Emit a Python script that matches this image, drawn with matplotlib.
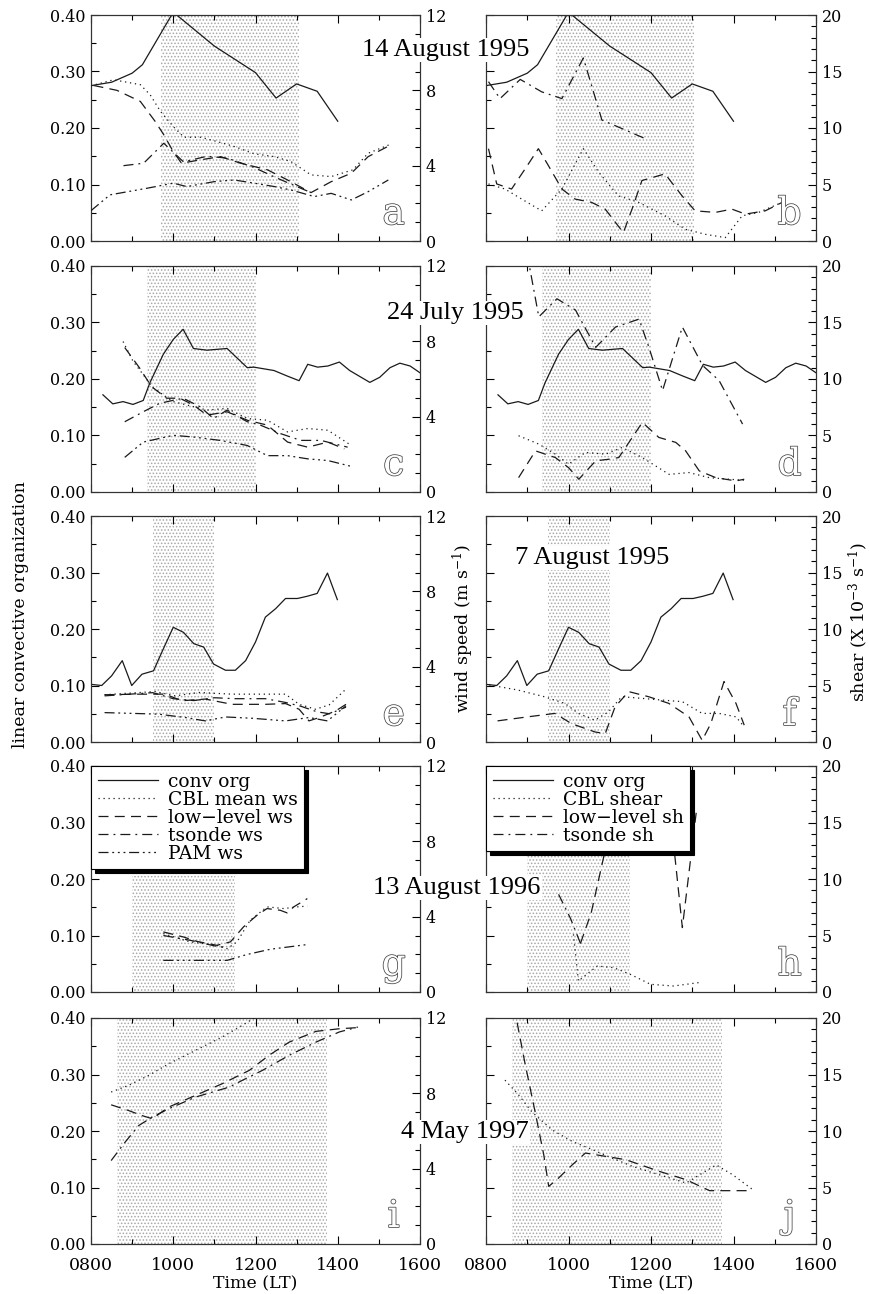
import matplotlib
matplotlib.use("Agg")
import matplotlib.pyplot as plt
import matplotlib.patheffects as pe
from matplotlib.lines import Line2D
from matplotlib.ticker import MultipleLocator, FuncFormatter

plt.rcParams['font.family'] = 'DejaVu Serif'
plt.rcParams['mathtext.fontset'] = 'dejavuserif'
plt.rcParams['hatch.linewidth'] = 0.7

# ---------------- data (time in decimal hours, LT) ----------------
# 14 August 1995
conv_t_a = [8.0, 8.5, 9.0, 9.25, 10.0, 11.0, 12.0, 12.5, 13.0, 13.5, 14.0]
conv_a = [0.275, 0.281, 0.297, 0.312, 0.405, 0.345, 0.298, 0.253, 0.278, 0.265, 0.212]
ws_cbl_t_a = [8.0, 8.55, 9.2, 9.44, 9.69, 10.0, 10.26, 10.66, 11.07, 11.48, 11.97, 12.46,
              12.86, 13.35, 13.84, 14.37, 14.74, 15.31]
ws_cbl_a = [8.24, 8.56, 8.3, 7.76, 6.88, 6.08, 5.51, 5.51, 5.28, 5.02, 4.63, 4.48,
            4.22, 3.51, 3.42, 3.78, 4.66, 5.16]
ws_low_t_a = [8.06, 8.63, 9.2, 9.56, 9.77, 10.0, 10.2, 10.66, 11.15, 11.64, 12.29, 12.78,
              13.35, 13.84, 14.33, 14.74, 15.2]
ws_low_a = [8.26, 8.0, 7.41, 6.35, 5.64, 4.75, 4.13, 4.31, 4.48, 4.13, 3.78, 3.24,
            2.57, 3.15, 3.6, 4.48, 5.0]
ws_tsonde_t_a = [8.79, 9.28, 9.77, 10.25, 10.82, 11.31, 11.97, 12.46, 12.94, 13.35]
ws_tsonde_a = [4.0, 4.13, 5.19, 4.2, 4.5, 4.4, 3.9, 3.4, 2.95, 2.57]
ws_pam_t_a = [8.0, 8.46, 9.36, 10.0, 10.33, 10.99, 11.48, 11.97, 12.46, 12.86, 13.43,
              13.84, 14.33, 14.74, 15.23]
ws_pam_a = [1.61, 2.45, 2.80, 3.07, 2.89, 3.15, 3.24, 3.07, 2.89, 2.71, 2.36,
            2.53, 2.18, 2.62, 3.24]
sh_cbl_t_b = [8.06, 8.46, 8.87, 9.35, 9.84, 10.36, 10.73, 11.21, 11.7, 12.34, 12.83,
              13.32, 13.8, 14.21, 14.61, 15.18]
sh_cbl_b = [5.05, 4.6, 3.7, 2.67, 4.6, 8.17, 6.09, 4.0, 3.42, 2.23, 1.04,
            0.59, 0.3, 2.23, 2.53, 3.42]
sh_low_t_b = [8.06, 8.26, 8.62, 8.95, 9.27, 9.51, 9.84, 10.16, 10.56, 10.89, 11.33,
              11.54, 11.78, 12.34, 12.75, 13.07, 13.56, 13.96, 14.29, 14.77, 15.18]
sh_low_b = [8.17, 5.05, 4.6, 6.39, 8.17, 6.69, 4.6, 3.71, 3.42, 2.82, 0.74,
            2.82, 5.35, 5.94, 4.01, 2.67, 2.53, 2.82, 2.38, 2.67, 3.42]
sh_tsonde_t_b = [8.06, 8.34, 8.83, 9.35, 9.84, 10.36, 10.81, 11.29, 11.86]
sh_tsonde_b = [14.1, 12.6, 14.3, 13.2, 12.6, 16.2, 10.7, 9.96, 9.06]

# 24 July 1995
conv_t_c = [8.29, 8.53, 8.78, 9.02, 9.27, 9.43, 9.76, 10.0, 10.24, 10.49, 10.82, 11.31,
            11.8, 11.96, 12.45, 12.78, 13.06, 13.27, 13.51, 13.76, 14.04, 14.29, 14.78,
            15.02, 15.27, 15.51, 15.76, 16.0]
conv_c = [0.172, 0.156, 0.16, 0.155, 0.162, 0.193, 0.244, 0.27, 0.288, 0.254, 0.251, 0.254,
          0.22, 0.221, 0.215, 0.205, 0.197, 0.226, 0.221, 0.223, 0.23, 0.215, 0.194,
          0.203, 0.22, 0.228, 0.223, 0.211]
ws_cbl_t_c = [8.78, 9.02, 9.27, 9.51, 10.0, 10.33, 10.82, 11.31, 11.8, 12.29, 12.78,
              13.27, 13.76, 14.33]
ws_cbl_c = [7.99, 6.95, 6.23, 5.52, 4.8, 4.62, 4.35, 4.44, 3.9, 3.81, 3.19, 3.37, 3.28, 2.47]
ws_low_t_c = [8.82, 9.18, 9.47, 9.84, 10.16, 10.49, 10.82, 11.31, 11.8, 12.29, 12.78,
              13.27, 13.76, 14.16]
ws_low_c = [7.67, 6.59, 5.6, 4.98, 4.98, 4.62, 4.08, 4.26, 3.81, 3.55, 2.65, 2.38, 2.65, 2.29]
ws_tsonde_t_c = [8.82, 9.27, 9.67, 10.24, 10.65, 10.98, 11.31, 11.8, 12.12, 12.61, 13.1,
                 13.59, 14.24]
ws_tsonde_c = [3.73, 4.26, 4.71, 4.98, 4.53, 3.9, 4.35, 3.73, 3.55, 3.1, 2.74, 2.74, 2.38]
ws_pam_t_c = [8.82, 9.27, 10.0, 10.49, 11.14, 11.8, 12.29, 12.78, 13.27, 13.76, 14.33]
ws_pam_c = [1.84, 2.65, 3.01, 2.92, 2.74, 2.47, 1.93, 1.93, 1.76, 1.67, 1.36]
sh_cbl_t_d = [8.79, 9.28, 9.68, 10.0, 10.41, 10.9, 11.3, 11.79, 12.11, 12.44, 12.92,
              13.41, 13.9, 14.26]
sh_cbl_d = [4.98, 4.24, 3.35, 2.46, 3.5, 3.35, 3.94, 3.05, 2.31, 1.56, 1.72, 1.27, 1.13, 1.04]
sh_low_t_d = [8.79, 9.2, 9.68, 10.0, 10.25, 10.66, 10.98, 11.22, 11.79, 12.19, 12.6,
              12.84, 13.17, 13.57, 14.06, 14.26]
sh_low_d = [1.27, 3.64, 3.05, 2.16, 1.13, 2.76, 2.9, 3.05, 6.16, 4.83, 4.39,
            3.64, 1.87, 1.27, 0.98, 1.13]
sh_tsonde_t_d = [8.9, 9.28, 9.72, 10.17, 10.66, 11.14, 11.71, 11.95, 12.28, 12.76, 13.25,
                 13.65, 14.22]
sh_tsonde_d = [23.0, 15.5, 17.1, 16.1, 12.8, 14.6, 15.3, 12.8, 8.98, 14.6, 11.2, 9.87, 6.01]

# 7 August 1995
conv_t_e = [8.0, 8.26, 8.5, 8.76, 8.99, 9.24, 9.52, 9.76, 10.0, 10.25, 10.5, 10.74, 10.98,
            11.27, 11.51, 11.76, 12.0, 12.24, 12.49, 12.73, 13.02, 13.26, 13.5, 13.75, 13.99]
conv_e = [0.102, 0.1, 0.117, 0.144, 0.1, 0.12, 0.126, 0.165, 0.203, 0.194, 0.174, 0.168,
          0.138, 0.127, 0.127, 0.144, 0.177, 0.221, 0.236, 0.254, 0.254, 0.258, 0.263,
          0.299, 0.252]
ws_cbl_t_e = [8.33, 8.83, 9.56, 10.05, 10.62, 11.43, 12.24, 12.73, 13.06, 13.46, 13.79, 14.2]
ws_cbl_e = [2.51, 2.58, 2.68, 2.45, 2.63, 2.54, 2.54, 2.54, 2.0, 1.74, 1.97, 2.81]
ws_low_t_e = [8.33, 9.15, 9.8, 10.21, 10.78, 11.43, 12.24, 12.73, 13.06, 13.3, 13.55,
              13.95, 14.2]
ws_low_e = [2.51, 2.54, 2.54, 2.19, 2.28, 2.0, 2.0, 2.04, 1.74, 1.12, 1.3, 1.65, 2.0]
ws_tsonde_t_e = [8.33, 9.5, 10.0, 10.5, 11.0, 11.5, 12.24, 12.73, 13.1, 13.5, 13.8, 14.2]
ws_tsonde_e = [2.45, 2.62, 2.3, 2.2, 2.35, 2.3, 2.3, 2.1, 1.9, 1.6, 1.5, 1.85]
ws_pam_t_e = [8.33, 9.64, 10.29, 10.78, 11.27, 11.92, 12.73, 13.3, 13.75, 14.2]
ws_pam_e = [1.56, 1.48, 1.3, 1.12, 1.33, 1.26, 1.12, 1.3, 1.12, 1.92]
sh_cbl_t_f = [8.08, 8.77, 9.42, 9.91, 10.24, 10.64, 10.97, 11.29, 11.78, 12.27, 12.76,
              13.24, 13.65, 14.06, 14.26]
sh_cbl_f = [5.05, 4.6, 4.0, 3.42, 2.53, 1.93, 2.67, 4.01, 3.86, 3.71, 3.57, 2.53, 2.53,
            2.23, 1.34]
sh_low_t_f = [8.28, 9.02, 9.67, 10.07, 10.64, 10.89, 11.13, 11.46, 11.94, 12.43, 12.92,
              13.24, 13.45, 13.77, 14.06, 14.26]
sh_low_f = [1.87, 2.23, 2.53, 1.63, 0.89, 0.74, 3.12, 4.46, 4.01, 3.42, 2.23, 0.15, 1.63,
            5.35, 3.42, 1.49]

# 13 August 1996
ws_cbl_t_g = [9.76, 10.41, 11.06, 11.31, 11.55, 11.87, 12.28, 12.69, 13.01, 13.26]
ws_cbl_g = [3.1, 2.66, 2.48, 2.3, 2.66, 3.81, 4.52, 4.43, 4.52, 4.56]
ws_low_t_g = [9.76, 10.25, 10.57, 11.06, 11.39, 11.71, 12.04, 12.28, 12.6, 12.77, 12.93, 13.26]
ws_low_g = [3.19, 2.92, 2.69, 2.48, 2.66, 3.46, 4.08, 4.43, 4.34, 4.2, 4.52, 4.96]
ws_tsonde_t_g = [9.76, 10.4, 11.0, 11.3]
ws_tsonde_g = [3.0, 2.75, 2.45, 2.35]
ws_pam_t_g = [9.76, 10.57, 11.31, 11.79, 12.36, 13.26]
ws_pam_g = [1.68, 1.68, 1.68, 1.99, 2.27, 2.52]
sh_cbl_t_h = [10.12, 10.24, 10.45, 10.7, 11.1, 11.5, 11.99, 12.55, 13.16]
sh_cbl_h = [5.1, 0.97, 1.6, 2.3, 2.15, 1.56, 0.68, 0.53, 0.83]
sh_low_t_h = [10.29, 10.55, 10.85, 11.05, 12.45, 12.76, 13.1]
sh_low_h = [4.3, 7.0, 11.9, 16.0, 16.5, 5.7, 16.0]
sh_tsonde_t_h = [9.76, 10.05, 10.29]
sh_tsonde_h = [8.64, 6.5, 4.3]

# 4 May 1997
ws_cbl_t_i = [8.49, 8.91, 9.4, 9.89, 10.54, 11.19, 11.68, 11.97, 12.3]
ws_cbl_i = [8.07, 8.42, 8.95, 9.57, 10.28, 10.99, 11.61, 12.0, 12.6]
ws_low_t_i = [8.49, 8.91, 9.24, 9.49, 9.89, 10.54, 11.19, 11.85, 12.33, 12.82, 13.47,
              14.04, 14.49]
ws_low_i = [7.39, 7.09, 6.82, 6.65, 7.27, 7.89, 8.51, 9.22, 10.02, 10.72, 11.29, 11.43, 11.49]
ws_tsonde_t_i = [8.49, 8.83, 9.16, 9.49, 9.89, 10.54, 11.36, 11.68, 12.17, 12.82, 13.47,
                 14.04, 14.49]
ws_tsonde_i = [4.43, 5.41, 6.29, 6.74, 7.18, 7.8, 8.33, 8.69, 9.22, 10.02, 10.72, 11.26, 11.52]
sh_low_t_j = [8.68, 8.95, 9.19, 9.4, 9.52, 9.72, 10.09, 10.41, 11.39, 12.2, 12.85, 13.42,
              13.82, 14.43]
sh_low_j = [21.0, 15.9, 11.7, 7.9, 5.1, 5.7, 7.0, 8.05, 7.46, 6.43, 5.69, 4.72, 4.72, 4.72]
sh_cbl_t_j = [8.46, 8.79, 9.11, 9.6, 10.09, 10.58, 11.06, 11.55, 12.2, 12.85, 13.58,
              13.98, 14.47]
sh_cbl_j = [14.5, 13.2, 11.7, 10.1, 9.08, 8.35, 7.6, 6.87, 6.13, 5.4, 7.0, 6.13, 4.8]

# shaded (stippled) periods, start / end hour for each row
shade_start = [9.7, 9.35, 9.5, 9.0, 8.63]
shade_end = [13.05, 12.0, 11.0, 11.5, 13.73]
dates = ['14 August 1995', '24 July 1995', '7 August 1995', '13 August 1996', '4 May 1997']
panel_letters = ['a', 'b', 'c', 'd', 'e', 'f', 'g', 'h', 'i', 'j']

legend_ws = ['conv org', 'CBL mean ws', 'low\u2212level ws', 'tsonde ws', 'PAM ws']
legend_sh = ['conv org', 'CBL shear', 'low\u2212level sh', 'tsonde sh']

# ---------------- styles ----------------
STY = {
    'conv': '-',
    'cbl': (0, (1, 3)),
    'low': (0, (8, 5)),
    'tsonde': (0, (8, 4, 1.5, 4)),
    'pam': (0, (8, 3, 1.5, 3, 1.5, 3, 1.5, 3)),
}
LC = '#1a1a1a'
LW = 0.9

W, H = 869, 1294
fig = plt.figure(figsize=(W / 100, H / 100), dpi=100)

col_x = [(91, 420), (486, 816)]
row_top = [15, 266, 516, 766, 1018]
ax_h = 226


def add_ax(x0, x1, y0):
    return fig.add_axes([x0 / W, 1 - (y0 + ax_h) / H, (x1 - x0) / W, ax_h / H])


def tfmt(v, p):
    return f"{int(round(v * 100)):04d}"


def style_axes(ax, ax2, left_labels, bottom_labels, right_max):
    ax.set_xlim(8, 16)
    ax.set_ylim(0, 0.40)
    ax.xaxis.set_major_locator(MultipleLocator(2))
    ax.xaxis.set_minor_locator(MultipleLocator(1))
    ax.xaxis.set_major_formatter(FuncFormatter(tfmt))
    ax.yaxis.set_major_locator(MultipleLocator(0.1))
    ax.yaxis.set_minor_locator(MultipleLocator(0.05))
    ax.yaxis.set_major_formatter(FuncFormatter(lambda v, p: f"{v:.2f}"))
    ax.tick_params(axis='both', which='both', direction='in', top=True, right=False,
                   labelsize=11.5, pad=4)
    ax.tick_params(which='major', length=6, width=0.8)
    ax.tick_params(which='minor', length=3.5, width=0.8)
    ax.tick_params(axis='x', labelbottom=bottom_labels, labelsize=12.5, pad=9)
    ax.tick_params(axis='y', labelleft=left_labels)
    ax2.set_ylim(0, right_max)
    if right_max == 12:
        ax2.yaxis.set_major_locator(MultipleLocator(4))
    else:
        ax2.yaxis.set_major_locator(MultipleLocator(5))
    ax2.yaxis.set_minor_locator(MultipleLocator(1))
    ax2.tick_params(axis='y', which='both', direction='in', labelsize=11.5, pad=4)
    ax2.tick_params(which='major', length=6, width=0.8)
    ax2.tick_params(which='minor', length=3.5, width=0.8)
    for a in (ax, ax2):
        for s in a.spines.values():
            s.set_linewidth(0.8)
            s.set_color('#333333')
    if bottom_labels:
        ax.set_xlabel('Time (LT)', fontsize=12.5, labelpad=1)


def line(ax, t, v, key):
    ax.plot(t, v, color=LC, lw=LW, linestyle=STY[key], zorder=3)


def shade(ax, t0, t1):
    ax.axvspan(t0, t1, facecolor='none', edgecolor='#a8a8a8', hatch='.....',
               lw=0, zorder=0)


def letter(ax, s):
    ax.text(0.92, 0.075, s, transform=ax.transAxes, ha='center', va='baseline',
            fontsize=27, color='white', zorder=6,
            path_effects=[pe.Stroke(linewidth=1.1, foreground='#444444'), pe.Normal()])


axes = []
for r in range(5):
    pair = []
    for c in range(2):
        ax = add_ax(col_x[c][0], col_x[c][1], row_top[r])
        ax2 = ax.twinx()
        style_axes(ax, ax2, c == 0, r == 4, 12 if c == 0 else 20)
        shade(ax, shade_start[r], shade_end[r])
        letter(ax2, panel_letters[2 * r + c])
        pair.append((ax, ax2))
    axes.append(pair)

# row 1: 14 August 1995
(a, a2), (b, b2) = axes[0]
line(a, conv_t_a, conv_a, 'conv')
line(a2, ws_cbl_t_a, ws_cbl_a, 'cbl')
line(a2, ws_low_t_a, ws_low_a, 'low')
line(a2, ws_tsonde_t_a, ws_tsonde_a, 'tsonde')
line(a2, ws_pam_t_a, ws_pam_a, 'pam')
line(b, conv_t_a, conv_a, 'conv')
line(b2, sh_cbl_t_b, sh_cbl_b, 'cbl')
line(b2, sh_low_t_b, sh_low_b, 'low')
line(b2, sh_tsonde_t_b, sh_tsonde_b, 'tsonde')

# row 2: 24 July 1995
(c_, c2), (d, d2) = axes[1]
line(c_, conv_t_c, conv_c, 'conv')
line(c2, ws_cbl_t_c, ws_cbl_c, 'cbl')
line(c2, ws_low_t_c, ws_low_c, 'low')
line(c2, ws_tsonde_t_c, ws_tsonde_c, 'tsonde')
line(c2, ws_pam_t_c, ws_pam_c, 'pam')
line(d, conv_t_c, conv_c, 'conv')
line(d2, sh_cbl_t_d, sh_cbl_d, 'cbl')
line(d2, sh_low_t_d, sh_low_d, 'low')
line(d2, sh_tsonde_t_d, sh_tsonde_d, 'tsonde')

# row 3: 7 August 1995
(e, e2), (f, f2) = axes[2]
line(e, conv_t_e, conv_e, 'conv')
line(e2, ws_cbl_t_e, ws_cbl_e, 'cbl')
line(e2, ws_low_t_e, ws_low_e, 'low')
line(e2, ws_tsonde_t_e, ws_tsonde_e, 'tsonde')
line(e2, ws_pam_t_e, ws_pam_e, 'pam')
line(f, conv_t_e, conv_e, 'conv')
line(f2, sh_cbl_t_f, sh_cbl_f, 'cbl')
line(f2, sh_low_t_f, sh_low_f, 'low')

# row 4: 13 August 1996
(g, g2), (h, h2) = axes[3]
line(g2, ws_cbl_t_g, ws_cbl_g, 'cbl')
line(g2, ws_low_t_g, ws_low_g, 'low')
line(g2, ws_tsonde_t_g, ws_tsonde_g, 'tsonde')
line(g2, ws_pam_t_g, ws_pam_g, 'pam')
line(h2, sh_cbl_t_h, sh_cbl_h, 'cbl')
line(h2, sh_low_t_h, sh_low_h, 'low')
line(h2, sh_tsonde_t_h, sh_tsonde_h, 'tsonde')

# row 5: 4 May 1997
(i, i2), (j, j2) = axes[4]
line(i2, ws_cbl_t_i, ws_cbl_i, 'cbl')
line(i2, ws_low_t_i, ws_low_i, 'low')
line(i2, ws_tsonde_t_i, ws_tsonde_i, 'tsonde')
line(j2, sh_cbl_t_j, sh_cbl_j, 'cbl')
line(j2, sh_low_t_j, sh_low_j, 'low')

# legends
keys_ws = ['conv', 'cbl', 'low', 'tsonde', 'pam']
keys_sh = ['conv', 'cbl', 'low', 'tsonde']
for axx, labels, keys in [(g2, legend_ws, keys_ws), (h2, legend_sh, keys_sh)]:
    handles = [Line2D([], [], color=LC, lw=LW, linestyle=STY[k]) for k in keys]
    leg = axx.legend(handles, labels, loc='upper left', borderaxespad=0,
                     frameon=True, fancybox=False, framealpha=1, edgecolor='black',
                     fontsize=13.5, handlelength=3.2, handletextpad=0.55,
                     labelspacing=0.0, borderpad=0.35,
                     shadow={'ox': 3, 'oy': -3, 'color': 'black', 'alpha': 1})
    leg.get_frame().set_linewidth(0.8)
    leg.set_zorder(10)

# date labels
date_pos = [(446, 50), (455, 313), (592, 558), (457, 888), (465, 1132)]
for txt, (px, py) in zip(dates, date_pos):
    fig.text(px / W, 1 - py / H, txt, ha='center', va='center', fontsize=19,
             family='Liberation Serif', zorder=20,
             bbox=dict(facecolor='white', edgecolor='none', pad=1))

# axis titles
fig.text(21 / W, 1 - 615 / H, 'linear convective organization', rotation=90,
         ha='center', va='center', fontsize=12.5)
fig.text(463 / W, 1 - 628 / H, 'wind speed (m s$^{-1}$)', rotation=90,
         ha='center', va='center', fontsize=12.5)
fig.text(858 / W, 1 - 622 / H, 'shear (X 10$^{-3}$ s$^{-1}$)', rotation=90,
         ha='center', va='center', fontsize=12.5)

fig.savefig('out.png', dpi=100)
